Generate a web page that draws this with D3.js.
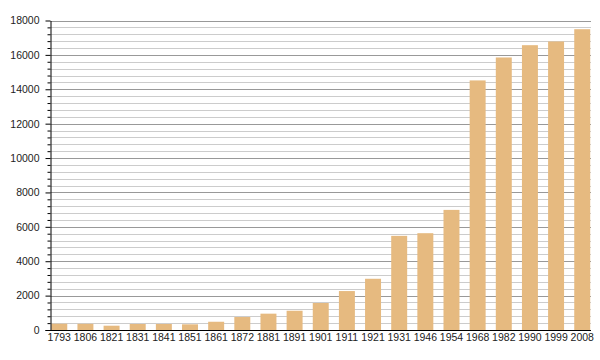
<!DOCTYPE html>
<html>
<head>
<meta charset="utf-8">
<script src="https://cdn.jsdelivr.net/npm/d3@7"></script>
<style>
html,body{margin:0;padding:0;background:#fff;}
svg{display:block;font-family:"Liberation Sans",Arial,sans-serif;}
</style>
</head>
<body>
<svg id="chart" width="600" height="360"></svg>
<script>
const years = ["1793","1806","1821","1831","1841","1851","1861","1872","1881","1891","1901","1911","1921","1931","1946","1954","1968","1982","1990","1999","2008"];
const population = [365,360,250,350,350,330,480,755,950,1120,1570,2265,2980,5475,5630,6985,14515,15850,16565,16780,17494];
const yMajorTicks = [0,2000,4000,6000,8000,10000,12000,14000,16000,18000];

const svg = d3.select("#chart");
const plotLeft = 50.5, plotRight = 591, plotTop = 20.5, plotBottom = 330;

const x = d3.scaleBand().domain(years).range([plotLeft, plotRight]).paddingInner(0.389).paddingOuter(0.03);
const y = d3.scaleLinear().domain([0, 18000]).range([plotBottom, plotTop]);

const minorTicks = d3.range(0, 18001, 400);

// minor gridlines
svg.append("g").selectAll("line").data(minorTicks.filter(v => v % 2000 !== 0)).join("line")
  .attr("x1", plotLeft).attr("x2", plotRight)
  .attr("y1", d => Math.round(y(d)) + 0.5).attr("y2", d => Math.round(y(d)) + 0.5)
  .attr("stroke", "#cccccc").attr("stroke-width", 1);
// major gridlines
svg.append("g").selectAll("line").data(yMajorTicks.filter(v => v > 0)).join("line")
  .attr("x1", plotLeft).attr("x2", plotRight)
  .attr("y1", d => Math.round(y(d)) + 0.5).attr("y2", d => Math.round(y(d)) + 0.5)
  .attr("stroke", "#999999").attr("stroke-width", 1);

// bars
svg.append("g").selectAll("rect").data(years).join("rect")
  .attr("x", d => x(d))
  .attr("width", x.bandwidth())
  .attr("y", (d, i) => y(population[i]))
  .attr("height", (d, i) => plotBottom - y(population[i]))
  .attr("fill", "#e6ba80");

// y axis minor ticks
svg.append("g").attr("transform", `translate(${plotLeft},0)`)
  .call(d3.axisLeft(y).tickValues(minorTicks.filter(v => v % 2000 !== 0)).tickSize(3).tickFormat(""))
  .call(g => g.select(".domain").remove())
  .call(g => g.selectAll("line").attr("stroke", "#000"));

// y axis major
const ya = svg.append("g").attr("transform", `translate(${plotLeft},0)`)
  .call(d3.axisLeft(y).tickValues(yMajorTicks).tickSize(5).tickSizeOuter(0).tickPadding(6).tickFormat(d3.format("d")));
ya.select(".domain").attr("stroke", "#000");
ya.selectAll("text").attr("font-size", "10.5px").attr("fill", "#222").attr("font-family", "Liberation Sans, Arial, sans-serif");

// x axis
const xa = svg.append("g").attr("transform", `translate(0,${plotBottom})`)
  .call(d3.axisBottom(x).tickSize(0).tickPadding(4));
xa.select(".domain").attr("d", `M${plotLeft-5},0.5H${plotRight}`).attr("stroke", "#000");
xa.selectAll("text").attr("font-size", "10.5px").attr("fill", "#222").attr("font-family", "Liberation Sans, Arial, sans-serif");
</script>
</body>
</html>
